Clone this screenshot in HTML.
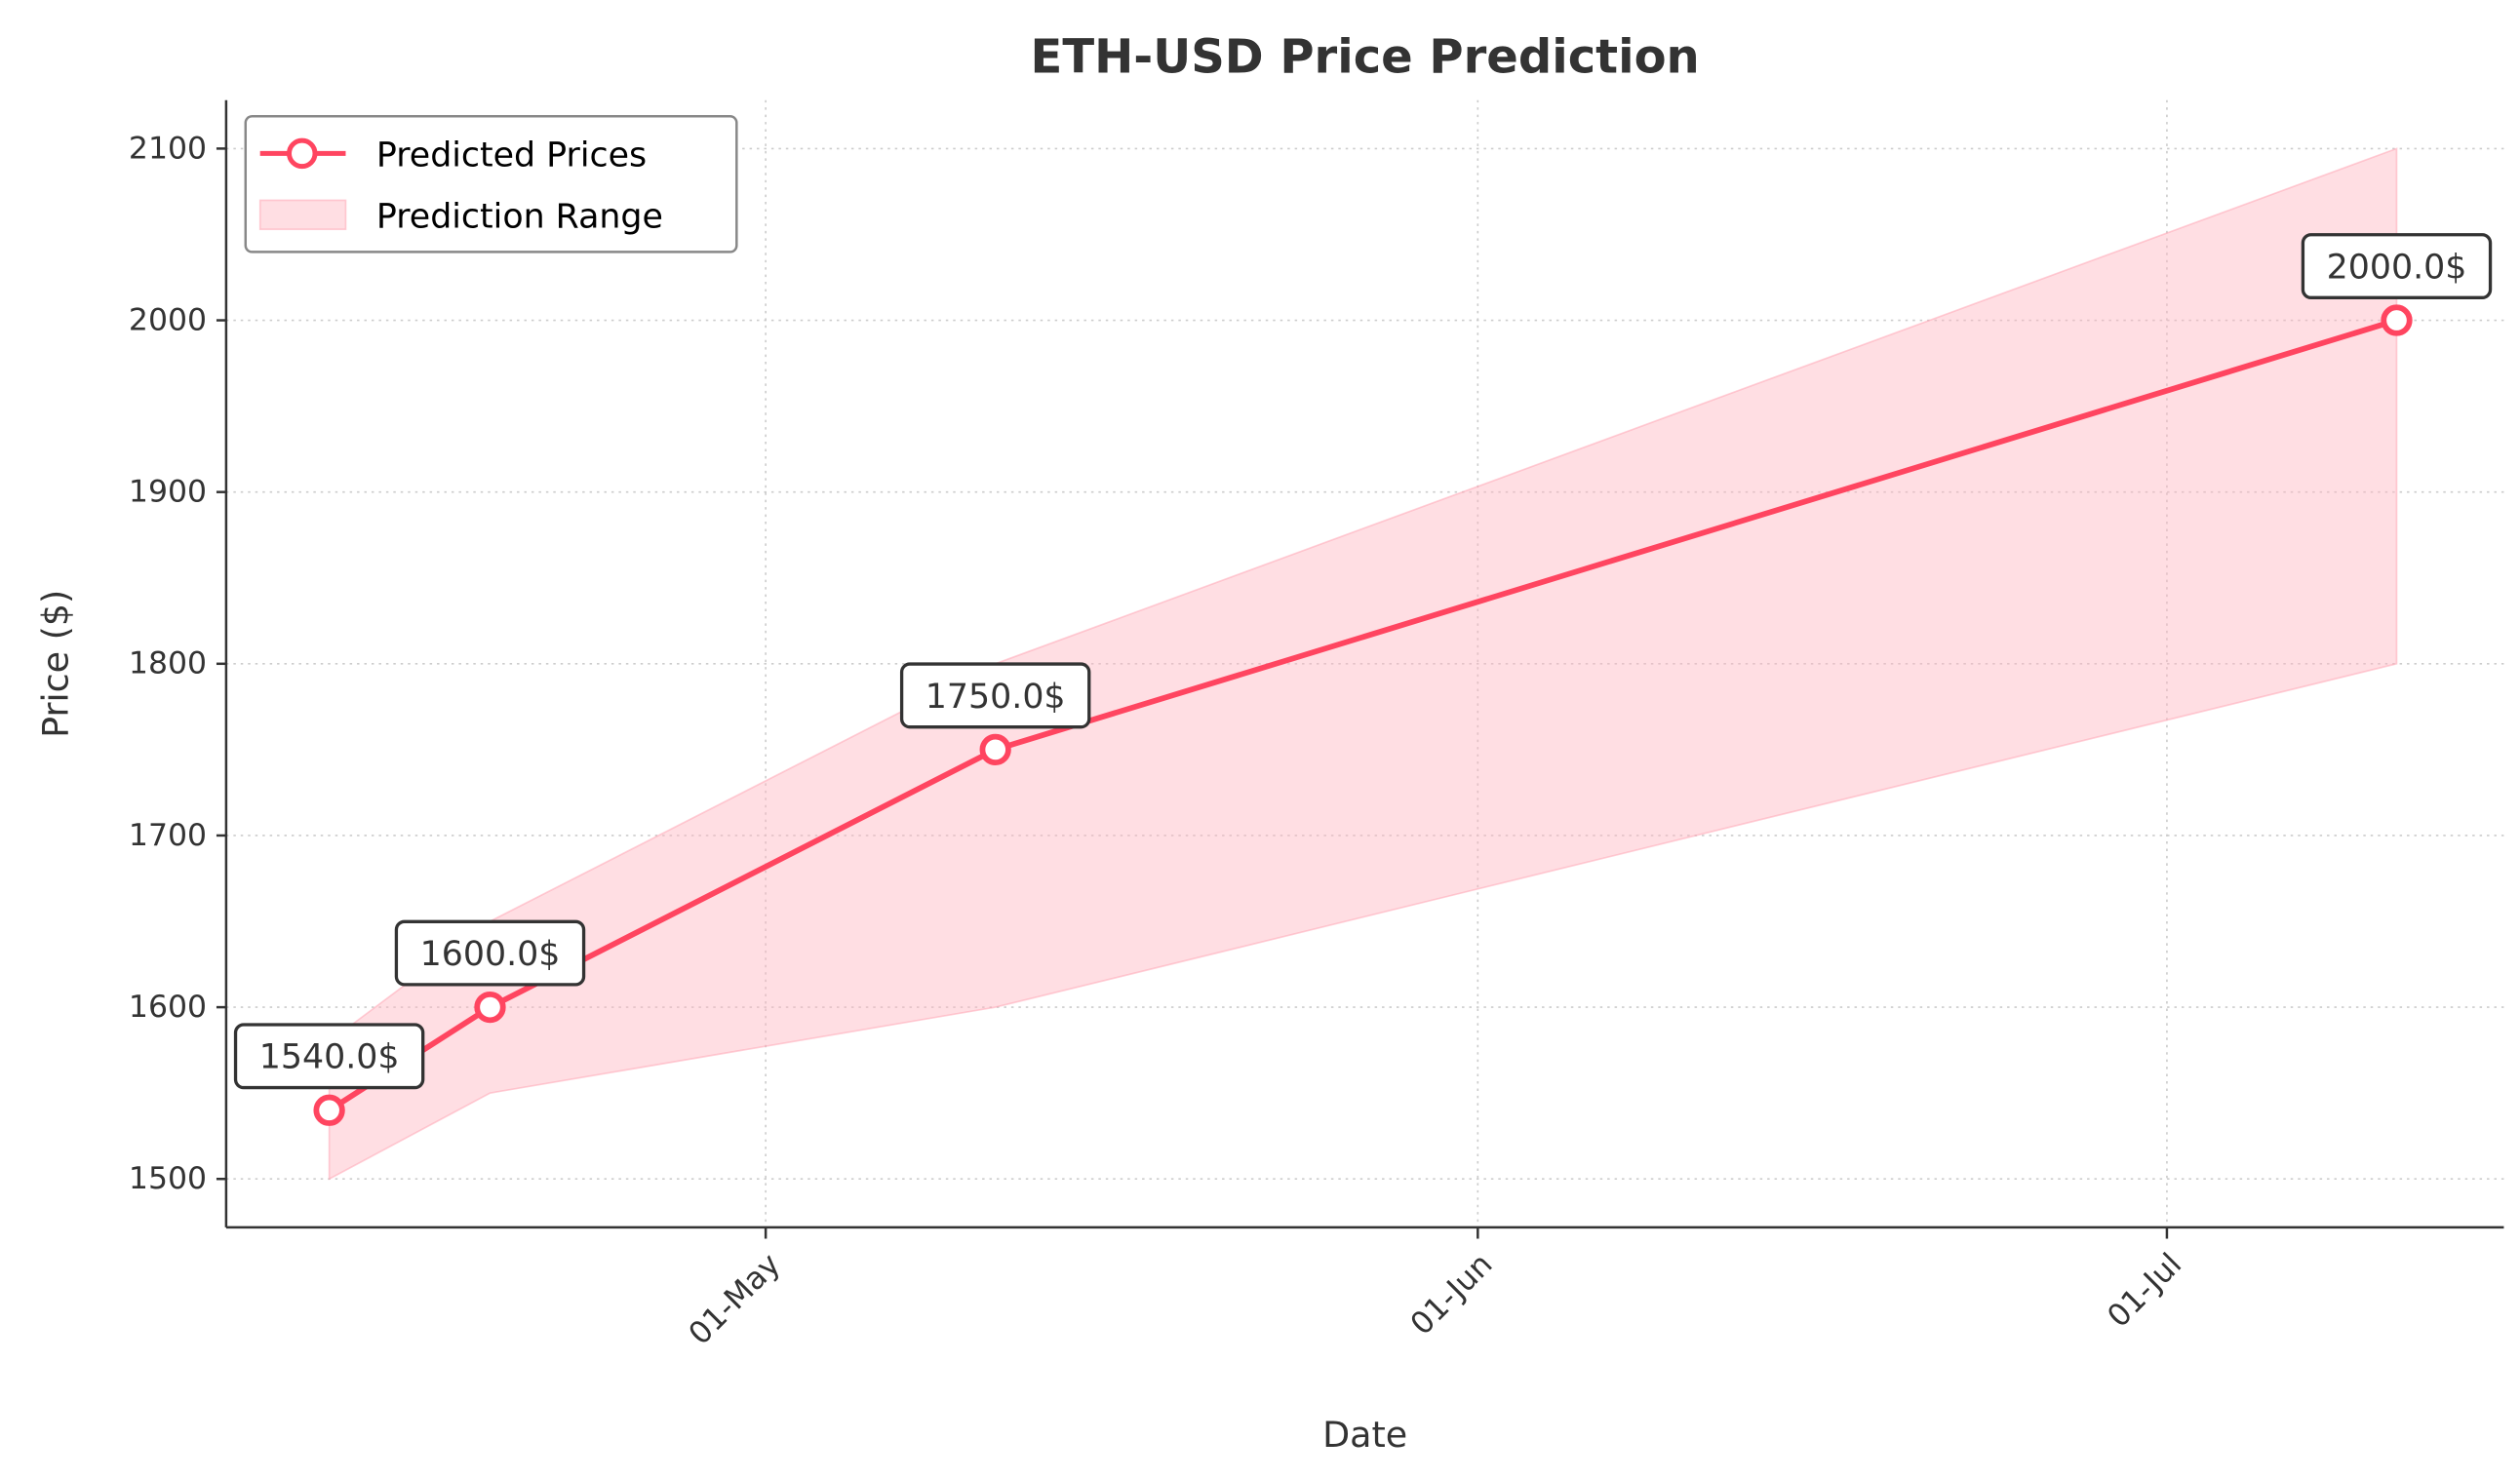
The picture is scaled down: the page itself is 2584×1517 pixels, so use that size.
<!DOCTYPE html>
<html><head><meta charset="utf-8"><style>
html,body{margin:0;padding:0;background:#fff;}
svg{display:block;font-family:"DejaVu Sans","Liberation Sans",sans-serif;}
</style></head><body>
<svg id="chart" width="2584" height="1517" viewBox="0 0 1560 915.8" preserveAspectRatio="none" xmlns="http://www.w3.org/2000/svg">
<rect width="1560" height="915.8" fill="#fff"/>
<text x="845" y="45" text-anchor="middle" font-size="29" font-weight="bold" fill="#333">ETH-USD Price Prediction</text>
<g id="grid"></g>
<g id="band"></g>
<g id="series"></g>
<g id="axes"></g>
<g id="annotations"></g>
<text transform="translate(42,411) rotate(-90)" text-anchor="middle" font-size="22" fill="#333">Price ($)</text>
<text x="845" y="896" text-anchor="middle" font-size="22" fill="#333">Date</text>
<g>
<rect x="152" y="72" width="304" height="84" rx="4" fill="#fff" stroke="#888" stroke-width="1.5"/>
<line x1="161" y1="95" x2="214" y2="95" stroke="#ff4560" stroke-width="3"/>
<circle cx="187" cy="95" r="8" fill="#fff" stroke="#ff4560" stroke-width="3"/>
<text x="233" y="103" font-size="21" fill="#000">Predicted Prices</text>
<rect x="161" y="124" width="53" height="18" fill="rgba(255,182,193,0.45)" stroke="rgba(255,160,175,0.5)"/>
<text x="233" y="141" font-size="21" fill="#000">Prediction Range</text>
</g>
</svg>
<script>
const dates = ["2023-04-12","2023-04-19","2023-05-11","2023-07-11"];
const predicted = [1540, 1600, 1750, 2000];
const lower = [1500, 1550, 1600, 1800];
const upper = [1580, 1650, 1800, 2100];
const yTicks = [1500, 1600, 1700, 1800, 1900, 2000, 2100];
const xTickDates = ["2023-05-01","2023-06-01","2023-07-01"];
const xTickLabels = ["01-May","01-Jun","01-Jul"];

const NS = "http://www.w3.org/2000/svg";
const L = 140, R = 1550, T = 62, B = 760;
const day = s => Date.parse(s + "T00:00:00Z") / 86400000;
const d0 = day("2023-05-01");
const xs = d => 474 + (day(d) - d0) * 14.22;
const ys = v => 730 - (v - 1500) * (638 / 600);
function mk(tag, attrs, parent) {
  const e = document.createElementNS(NS, tag);
  for (const k in attrs) e.setAttribute(k, attrs[k]);
  parent.appendChild(e);
  return e;
}
const grid = document.getElementById("grid");
const axes = document.getElementById("axes");
yTicks.forEach(v => {
  const y = ys(v);
  const g = mk("line", {x1: L, x2: R, y1: y, y2: y, stroke: "#ccc", "stroke-width": 1, "stroke-dasharray": "1.5 3"}, grid);
  
  
  mk("line", {x1: L - 6, x2: L, y1: y, y2: y, stroke: "#333", "stroke-width": 1.5}, axes);
  const t = mk("text", {x: L - 12, y: y + 6, "text-anchor": "end", "font-size": 19, fill: "#333"}, axes);
  t.textContent = v;
  
  
});
xTickDates.forEach((d, i) => {
  const x = xs(d);
  const g = mk("line", {x1: x, x2: x, y1: T, y2: B, stroke: "#ccc", "stroke-width": 1, "stroke-dasharray": "1.5 3"}, grid);
  
  
  mk("line", {x1: x, x2: x, y1: B, y2: B + 7, stroke: "#333", "stroke-width": 1.5}, axes);
  const t = mk("text", {x: 0, y: 0, "text-anchor": "end", "font-size": 19, fill: "#333", transform: `translate(${x + 10},${B + 24}) rotate(-45)`}, axes);
  t.textContent = xTickLabels[i];
  
  
});
const ax1 = mk("line", {x1: L, x2: L, y1: T, y2: B, stroke: "#333", "stroke-width": 1.5}, axes);


const ax2 = mk("line", {x1: L, x2: R, y1: B, y2: B, stroke: "#333", "stroke-width": 1.5}, axes);



let pts = dates.map((d, i) => xs(d) + "," + ys(upper[i]));
for (let i = dates.length - 1; i >= 0; i--) pts.push(xs(dates[i]) + "," + ys(lower[i]));
const band = mk("polygon", {points: pts.join(" "), fill: "rgba(255,182,193,0.45)", stroke: "rgba(255,160,175,0.5)", "stroke-width": 1}, document.getElementById("band"));



const series = document.getElementById("series");
const line = mk("polyline", {points: dates.map((d, i) => xs(d) + "," + ys(predicted[i])).join(" "), fill: "none", stroke: "#ff4560", "stroke-width": 3.5, "stroke-linejoin": "round"}, series);


const ann = document.getElementById("annotations");
dates.forEach((d, i) => {
  const x = xs(d), y = ys(predicted[i]);
  const c = mk("circle", {cx: x, cy: y, r: 8, fill: "#fff", stroke: "#ff4560", "stroke-width": 3.5}, series);
  
  
  const g = mk("g", {}, ann);
  
  
  mk("rect", {x: x - 58, y: y - 53, width: 116, height: 39, rx: 5, fill: "#fff", stroke: "#333", "stroke-width": 2}, g);
  const t = mk("text", {x: x, y: y - 26, "text-anchor": "middle", "font-size": 21, fill: "#333"}, g);
  t.textContent = predicted[i].toFixed(1) + "$";
});
</script>
</body></html>
